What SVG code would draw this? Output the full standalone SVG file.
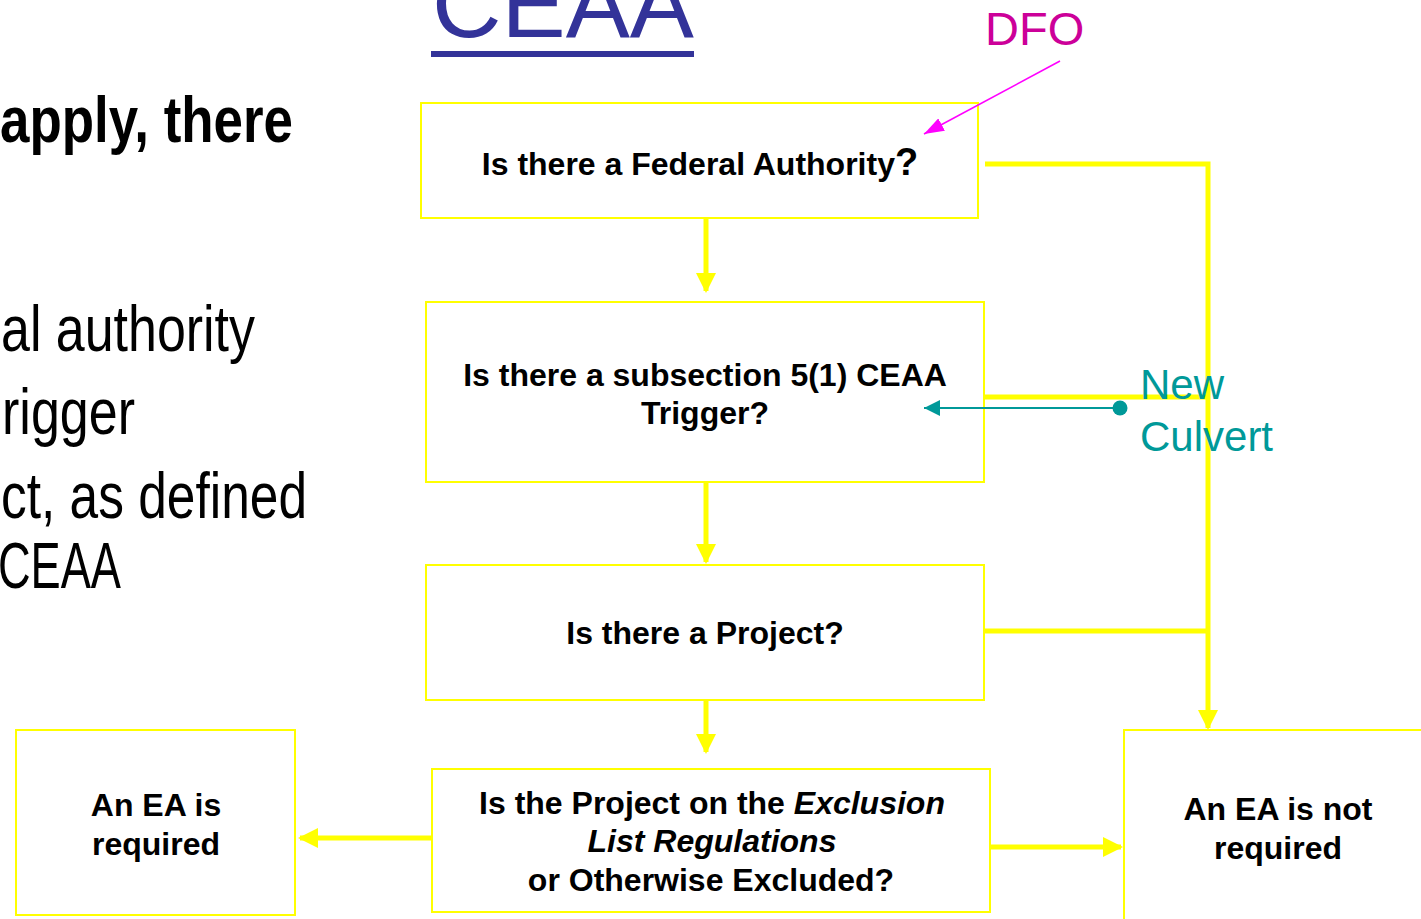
<svg xmlns="http://www.w3.org/2000/svg" width="1421" height="919" viewBox="0 0 1421 919">
  <style>
    .box { fill: #ffffff; stroke: #ffff00; stroke-width: 2; }
    .q { font-family: "Liberation Sans", Arial, sans-serif; font-weight: bold; font-size: 32px; fill: #000000; text-anchor: middle; }
    .side { font-family: "Liberation Sans", Arial, sans-serif; font-size: 64px; fill: #000000; }
    .flow { fill: none; stroke: #ffff00; stroke-width: 5; }
    .teal { font-family: "Liberation Sans", Arial, sans-serif; font-size: 42px; fill: #009999; }
  </style>
  <defs>
    <marker id="yarrow" markerWidth="4" markerHeight="4" refX="3.6" refY="2" orient="auto" markerUnits="strokeWidth">
      <path d="M0,0 L4,2 L0,4 Z" fill="#ffff00"/>
    </marker>
    <marker id="tarrow" markerWidth="8" markerHeight="8" refX="8" refY="4" orient="auto" markerUnits="strokeWidth">
      <path d="M0,0 L8,4 L0,8 Z" fill="#009999"/>
    </marker>
    <marker id="marrow" markerWidth="20" markerHeight="14" refX="20" refY="7" orient="auto" markerUnits="userSpaceOnUse">
      <path d="M0,0 L20,7 L0,14 Z" fill="#ff00ff"/>
    </marker>
  </defs>

  <rect width="1421" height="919" fill="#ffffff"/>

  <!-- heading -->
  <g id="title">
    <text x="432" y="37" font-family="Liberation Sans, Arial, sans-serif" font-size="96" fill="#333399" textLength="262" lengthAdjust="spacingAndGlyphs">CEAA</text>
    <rect x="431" y="51" width="263" height="6" fill="#333399"/>
  </g>

  <!-- bullet text on the left -->
  <g id="side-text">
    <text class="side" x="0" y="142" font-weight="bold" font-size="65" textLength="293" lengthAdjust="spacingAndGlyphs">apply, there</text>
    <text class="side" x="1" y="351" textLength="254" lengthAdjust="spacingAndGlyphs">al authority</text>
    <text class="side" x="2" y="434" textLength="133" lengthAdjust="spacingAndGlyphs">rigger</text>
    <text class="side" x="1" y="518" textLength="306" lengthAdjust="spacingAndGlyphs">ct, as defined</text>
    <text class="side" x="-2" y="588" textLength="123" lengthAdjust="spacingAndGlyphs">CEAA</text>
  </g>

  <!-- connectors -->
  <g id="connectors">
    <line class="flow" x1="706" y1="219" x2="706" y2="291" marker-end="url(#yarrow)"/>
    <line class="flow" x1="706" y1="483" x2="706" y2="562" marker-end="url(#yarrow)"/>
    <line class="flow" x1="706" y1="701" x2="706" y2="752" marker-end="url(#yarrow)"/>
    <line class="flow" x1="432" y1="838" x2="300" y2="838" marker-end="url(#yarrow)"/>
    <line class="flow" x1="990" y1="847" x2="1121" y2="847" marker-end="url(#yarrow)"/>
    <polyline class="flow" points="985,164 1208,164 1208,728" marker-end="url(#yarrow)"/>
    <line class="flow" x1="985" y1="397" x2="1208" y2="397"/>
    <line class="flow" x1="985" y1="631" x2="1208" y2="631"/>
  </g>

  <!-- decision boxes -->
  <g id="federal-authority">
    <rect class="box" x="421" y="103" width="557" height="115"/>
    <text class="q" x="700" y="175">Is there a Federal Authority<tspan font-size="38">?</tspan></text>
  </g>
  <g id="trigger">
    <rect class="box" x="426" y="302" width="558" height="180"/>
    <text class="q" x="705" y="386">Is there a subsection 5(1) CEAA</text>
    <text class="q" x="705" y="424">Trigger?</text>
  </g>
  <g id="project">
    <rect class="box" x="426" y="565" width="558" height="135"/>
    <text class="q" x="705" y="644">Is there a Project?</text>
  </g>
  <g id="exclusion">
    <rect class="box" x="432" y="769" width="558" height="143"/>
    <text class="q" x="712" y="814">Is the Project on the <tspan font-style="italic">Exclusion</tspan></text>
    <text class="q" x="712" y="852" font-style="italic">List Regulations</text>
    <text class="q" x="711" y="891">or Otherwise Excluded?</text>
  </g>
  <g id="ea-required">
    <rect class="box" x="16" y="730" width="279" height="185"/>
    <text class="q" x="156" y="816">An EA is</text>
    <text class="q" x="156" y="855">required</text>
  </g>
  <g id="ea-not-required">
    <rect class="box" x="1124" y="730" width="310" height="200"/>
    <text class="q" x="1278" y="820">An EA is not</text>
    <text class="q" x="1278" y="859">required</text>
  </g>

  <!-- annotations -->
  <g id="dfo">
    <text x="985" y="45" font-family="Liberation Sans, Arial, sans-serif" font-size="47" fill="#cc0099">DFO</text>
    <line x1="1060" y1="61" x2="924" y2="134" stroke="#ff00ff" stroke-width="1.6" marker-end="url(#marrow)"/>
  </g>
  <g id="new-culvert">
    <line x1="1120" y1="408" x2="924" y2="408" stroke="#009999" stroke-width="2" marker-end="url(#tarrow)"/>
    <circle cx="1120" cy="408" r="7.5" fill="#009999"/>
    <text class="teal" x="1140" y="399">New</text>
    <text class="teal" x="1140" y="451">Culvert</text>
  </g>
</svg>
